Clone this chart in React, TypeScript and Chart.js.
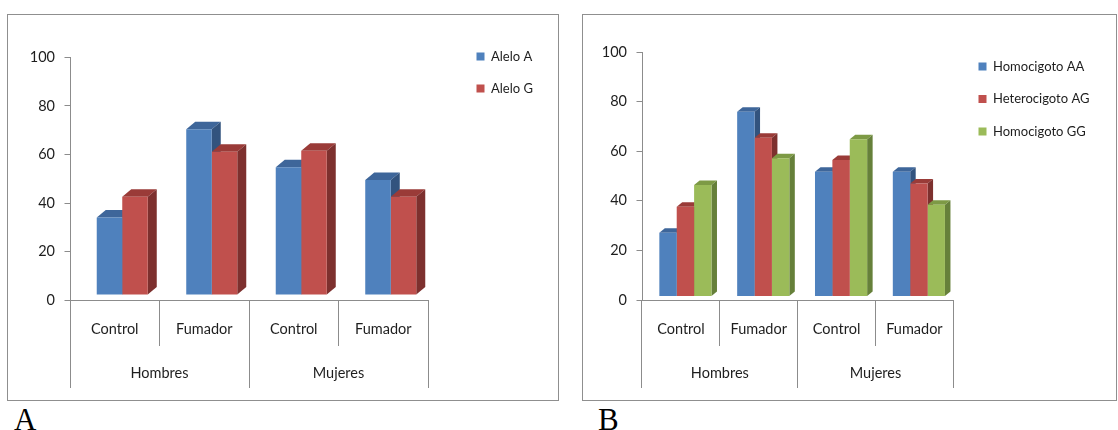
import { useEffect, useRef } from "react";
import { Chart, registerables } from "chart.js";

Chart.register(...registerables);

// Two-level category axis: condition inside each sex group
const subgroupLabels = ["Control", "Fumador", "Control", "Fumador"];
const groupLabels = ["Hombres", "Mujeres"];
const yMin = 0;
const yMax = 100;
const yStep = 20;

// Panel A: allele frequencies (%)
const alleleSeries = ["Alelo A", "Alelo G"];
const aleloA = [32.0, 68.3, 52.7, 47.4];
const aleloG = [40.5, 59.1, 59.5, 40.5];

// Panel B: genotype frequencies (%)
const genotypeSeries = ["Homocigoto AA", "Heterocigoto AG", "Homocigoto GG"];
const homocigotoAA = [25.7, 74.5, 50.3, 50.3];
const heterocigotoAG = [36.2, 64.0, 55.0, 45.6];
const homocigotoGG = [45.0, 55.7, 63.4, 37.0];

const panelLetters = ["A", "B"];

// Column faces: front, top, side
const blueFaces = ["#4f81bd", "#3e669a", "#32537e"];
const redFaces = ["#c0504d", "#9a3b38", "#7d302e"];
const greenFaces = ["#9bbb59", "#7d9a45", "#66803a"];

const axisGray = "#8c8c8c";
const textColor = "#1e1e1e";
const uiFont = "Lato, 'Open Sans', sans-serif";

// Draws the top and side faces of each column and offsets the whole
// column layer, giving the clustered columns a simple 3-D look.
const columnDepth = {
  id: "columnDepth",
  beforeDatasetsDraw(chart: any, _args: any, opts: any) {
    const ctx = chart.ctx;
    ctx.save();
    ctx.translate(opts.shiftX, opts.shiftY);
    const metas = chart.getSortedVisibleDatasetMetas();
    const count = chart.data.labels.length;
    const dx = opts.dx;
    const dy = opts.dy;
    for (let i = 0; i < count; i++) {
      for (const meta of metas) {
        const bar = meta.data[i];
        if (!bar) continue;
        const { x, y, base, width } = bar.getProps(["x", "y", "base", "width"], true);
        const ds = chart.data.datasets[meta.index];
        const l = x - width / 2;
        const r = x + width / 2;
        ctx.fillStyle = ds.topColor;
        ctx.beginPath();
        ctx.moveTo(l, y);
        ctx.lineTo(l + dx, y - dy);
        ctx.lineTo(r + dx, y - dy);
        ctx.lineTo(r, y);
        ctx.closePath();
        ctx.fill();
        ctx.fillStyle = ds.sideColor;
        ctx.beginPath();
        ctx.moveTo(r, y);
        ctx.lineTo(r + dx, y - dy);
        ctx.lineTo(r + dx, base - dy);
        ctx.lineTo(r, base);
        ctx.closePath();
        ctx.fill();
      }
    }
  },
  afterDatasetsDraw(chart: any) {
    chart.ctx.restore();
  },
};

// Places the legend block to the right of the plot area.
const legendPlacement = {
  id: "legendPlacement",
  afterLayout(chart: any, _args: any, opts: any) {
    const lg = chart.legend;
    if (!lg) return;
    const area = chart.chartArea;
    lg.left = area.right + opts.dx;
    lg.right = lg.left + lg.width;
    lg.top = area.top + opts.dy;
    lg.bottom = lg.top + lg.height;
  },
};

type PanelSpec = {
  series: string[];
  values: number[][];
  faces: string[][];
  width: number;
  height: number;
  axisWidth: number;
  padTop: number;
  padRight: number;
  categoryPercentage: number;
  depth: { dx: number; dy: number; shiftX: number; shiftY: number };
  legend: { dx: number; dy: number; padding: number };
};

// Inner row (Control / Fumador) band height and outer row (sex) band height
const innerBand = 46;
const outerBand = 54;
const outerTick = 42;

function buildConfig(p: PanelSpec): any {
  const tickFont = { family: uiFont, size: 14.5 };
  const halfLine = (14.5 * 1.2) / 2;
  return {
    type: "bar",
    data: {
      labels: subgroupLabels,
      datasets: p.series.map((name, k) => ({
        label: name,
        data: p.values[k],
        backgroundColor: p.faces[k][0],
        topColor: p.faces[k][1],
        sideColor: p.faces[k][2],
        borderWidth: 0,
        categoryPercentage: p.categoryPercentage,
        barPercentage: 1,
      })),
    },
    options: {
      responsive: false,
      animation: false,
      events: [],
      layout: { padding: { left: 0, top: p.padTop, right: p.padRight, bottom: 0 } },
      scales: {
        x: {
          type: "category",
          position: "bottom",
          weight: 0,
          offset: true,
          grid: {
            display: true,
            offset: true,
            drawOnChartArea: false,
            drawTicks: true,
            tickLength: innerBand,
            color: axisGray,
            lineWidth: 1,
          },
          border: { display: true, color: axisGray, width: 1 },
          ticks: {
            color: textColor,
            font: tickFont,
            padding: 29 - innerBand - halfLine,
            maxRotation: 0,
            minRotation: 0,
            autoSkip: false,
          },
          afterFit: (s: any) => {
            s.height = innerBand;
          },
        },
        groups: {
          type: "category",
          position: "bottom",
          weight: 1,
          labels: groupLabels,
          offset: true,
          grid: {
            display: true,
            offset: true,
            drawOnChartArea: false,
            drawTicks: true,
            tickLength: outerTick,
            color: axisGray,
            lineWidth: 1,
          },
          border: { display: false },
          ticks: {
            color: textColor,
            font: tickFont,
            padding: 27.5 - outerTick - halfLine,
            maxRotation: 0,
            minRotation: 0,
            autoSkip: false,
          },
          afterFit: (s: any) => {
            s.height = outerBand;
          },
        },
        y: {
          type: "linear",
          position: "left",
          min: yMin,
          max: yMax,
          ticks: { stepSize: yStep, padding: 9.5, color: textColor, font: tickFont },
          grid: {
            display: true,
            drawOnChartArea: false,
            drawTicks: true,
            tickLength: 5.5,
            color: axisGray,
            lineWidth: 1,
          },
          border: { display: true, color: axisGray, width: 1 },
          afterFit: (s: any) => {
            s.width = p.axisWidth;
          },
        },
      },
      plugins: {
        legend: {
          display: true,
          position: "chartArea",
          align: "start",
          labels: {
            boxWidth: 8,
            boxHeight: 8,
            padding: p.legend.padding,
            color: textColor,
            font: { family: uiFont, size: 13 },
          },
        },
        tooltip: { enabled: false },
        columnDepth: p.depth,
        legendPlacement: { dx: p.legend.dx, dy: p.legend.dy },
      },
    },
    plugins: [columnDepth, legendPlacement],
  };
}

function ChartPanel({ spec }: { spec: PanelSpec }) {
  const ref = useRef<HTMLCanvasElement | null>(null);
  useEffect(() => {
    if (!ref.current) return;
    const chart = new Chart(ref.current, buildConfig(spec));
    return () => chart.destroy();
  }, [spec]);
  return (
    <canvas
      ref={ref}
      width={spec.width}
      height={spec.height}
      style={{ display: "block", width: spec.width, height: spec.height }}
    />
  );
}

const panelA: PanelSpec = {
  series: alleleSeries,
  values: [aleloA, aleloG],
  faces: [blueFaces, redFaces],
  width: 550,
  height: 385,
  axisWidth: 62,
  padTop: 42.5,
  padRight: 130,
  categoryPercentage: 0.57,
  depth: { dx: 9, dy: 7.5, shiftX: 7.5, shiftY: -5 },
  legend: { dx: 29.5, dy: -26.5, padding: 19 },
};

const panelB: PanelSpec = {
  series: genotypeSeries,
  values: [homocigotoAA, heterocigotoAG, homocigotoGG],
  faces: [blueFaces, redFaces, greenFaces],
  width: 533,
  height: 385,
  axisWidth: 59,
  padTop: 37,
  padRight: 162.7,
  categoryPercentage: 0.67,
  depth: { dx: 5.5, dy: 4.5, shiftX: 4.5, shiftY: -3.5 },
  legend: { dx: 5.7, dy: -11.5, padding: 19.5 },
};

const frameStyle = (left: number, width: number): React.CSSProperties => ({
  position: "absolute",
  left,
  top: 14,
  width,
  height: 387,
  boxSizing: "border-box",
  border: "1px solid #8f8f8f",
  background: "#fff",
});

const letterStyle = (left: number): React.CSSProperties => ({
  position: "absolute",
  left,
  top: 403.5,
  fontFamily: "'Liberation Serif', 'DejaVu Serif', serif",
  fontSize: 31,
  lineHeight: "31px",
  color: "#000",
});

export default function App() {
  return (
    <div
      style={{
        position: "fixed",
        left: 0,
        top: 0,
        width: 1118,
        height: 430,
        background: "#fff",
        overflow: "hidden",
      }}
    >
      <div style={frameStyle(7, 552)}>
        <ChartPanel spec={panelA} />
      </div>
      <div style={frameStyle(582, 535)}>
        <ChartPanel spec={panelB} />
      </div>
      <div style={letterStyle(14)}>{panelLetters[0]}</div>
      <div style={letterStyle(598)}>{panelLetters[1]}</div>
    </div>
  );
}
